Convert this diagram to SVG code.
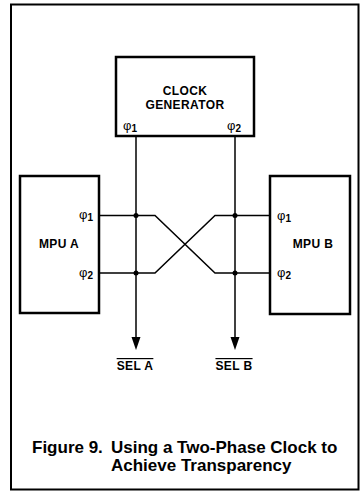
<svg xmlns="http://www.w3.org/2000/svg" width="361" height="491" viewBox="0 0 361 491">
<defs>
<style>
.box{fill:#fff;stroke:#000;stroke-width:2.5}
.wire{fill:none;stroke:#000;stroke-width:1.5}
.lbl{font-family:"Liberation Sans",Arial,sans-serif;font-weight:bold;font-size:12px;fill:#000;letter-spacing:0.4px}
.phi{font-family:"Liberation Sans",Arial,sans-serif;font-size:13px;fill:#000}
.sub{font-size:10px;font-weight:bold}
.cap{font-family:"Liberation Sans",Arial,sans-serif;font-weight:bold;font-size:17px;fill:#000}
</style>
</defs>
<rect x="0" y="0" width="361" height="491" fill="#fff"/>
<rect id="frame" x="11" y="4.5" width="347.5" height="485" fill="none" stroke="#000" stroke-width="2"/>

<g id="connectors">
<path class="wire" d="M136,136 V338"/>
<path class="wire" d="M235,136 V338"/>
<path d="M131.5,337 L140.5,337 L136,350 Z" fill="#000"/>
<path d="M230.5,337 L239.5,337 L235,350 Z" fill="#000"/>
<path class="wire" d="M99,215.5 H155 L215,273 H270"/>
<path class="wire" d="M99,273 H155 L215,215.5 H270"/>
<circle cx="136" cy="215.5" r="2.5" fill="#000"/>
<circle cx="136" cy="273" r="2.5" fill="#000"/>
<circle cx="235" cy="215.5" r="2.5" fill="#000"/>
<circle cx="235" cy="273" r="2.5" fill="#000"/>
</g>

<g id="clock">
<rect class="box" x="116" y="57" width="138" height="79"/>
<text class="lbl" x="185" y="95" text-anchor="middle">CLOCK</text>
<text class="lbl" x="185" y="109" text-anchor="middle">GENERATOR</text>
<text class="phi" x="123" y="130">φ<tspan class="sub" dy="2">1</tspan></text>
<text class="phi" x="227" y="130">φ<tspan class="sub" dy="2">2</tspan></text>
</g>

<g id="mpuA">
<rect class="box" x="20" y="176" width="79" height="137"/>
<text class="lbl" x="59" y="248" text-anchor="middle">MPU A</text>
<text class="phi" x="79" y="219">φ<tspan class="sub" dy="2">1</tspan></text>
<text class="phi" x="79" y="277">φ<tspan class="sub" dy="2">2</tspan></text>
</g>

<g id="mpuB">
<rect class="box" x="270" y="176" width="80" height="138"/>
<text class="lbl" x="313" y="248" text-anchor="middle">MPU B</text>
<text class="phi" x="277" y="220">φ<tspan class="sub" dy="2">1</tspan></text>
<text class="phi" x="277" y="277">φ<tspan class="sub" dy="2">2</tspan></text>
</g>

<g id="selA">
<text class="lbl" x="135" y="370" text-anchor="middle" text-decoration="overline">SEL A</text>
</g>
<g id="selB">
<text class="lbl" x="234" y="370" text-anchor="middle" text-decoration="overline">SEL B</text>
</g>

<g id="caption">
<text class="cap" x="32" y="453">Figure 9.<tspan x="111">Using a Two-Phase Clock to</tspan></text>
<text class="cap" x="111" y="471">Achieve Transparency</text>
</g>
</svg>
